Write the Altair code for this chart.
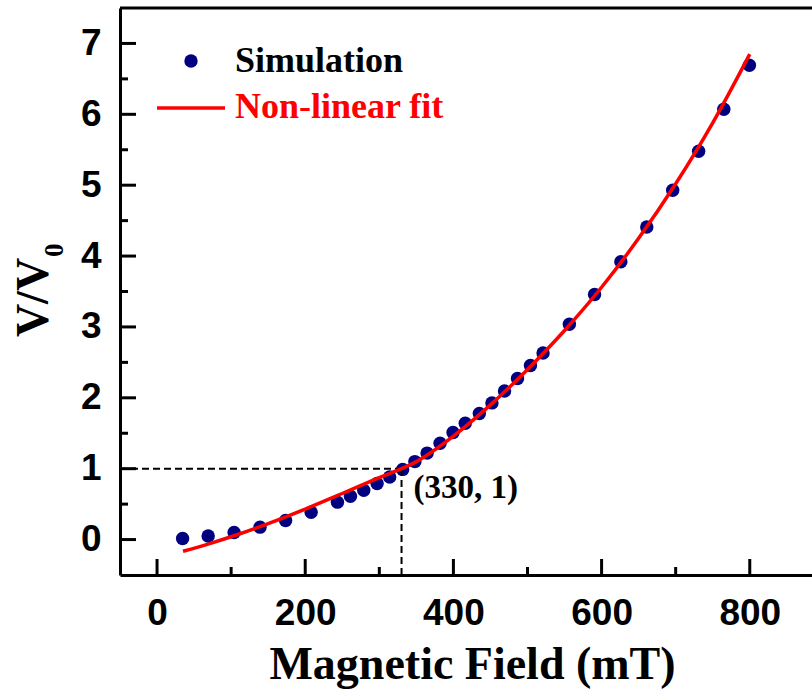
import altair as alt
import pandas as pd

# ---- data ----
sim_x = [34.5, 69, 104, 139, 173.5, 208, 243.5, 261, 279, 297, 314, 331.5, 348, 364.5,
         382, 399.5, 416, 435, 452, 469, 486.5, 504, 521, 556.5, 590.5, 626, 661, 696,
         731, 765, 799.5]
sim_y = [0.014, 0.05, 0.1, 0.175, 0.27, 0.385, 0.528, 0.61, 0.696, 0.79, 0.883, 0.99,
         1.1, 1.22, 1.36, 1.51, 1.64, 1.778, 1.928, 2.097, 2.272, 2.456, 2.633, 3.038,
         3.457, 3.92, 4.411, 4.929, 5.48, 6.072, 6.693]

fit_x = [35, 70, 110, 150, 200, 250, 300, 330, 350, 400, 450, 500, 550, 600, 650, 700, 750, 800]
fit_y = [-0.165, -0.06, 0.075, 0.225, 0.43, 0.65, 0.875, 1.0, 1.10, 1.46, 1.90, 2.40,
         2.95, 3.56, 4.25, 5.02, 5.88, 6.85]

x_major = [0, 200, 400, 600, 800]
x_minor = [100, 300, 500, 700]
y_major = [0, 1, 2, 3, 4, 5, 6, 7]
y_minor = [0.5, 1.5, 2.5, 3.5, 4.5, 5.5, 6.5]
x_domain = [-50, 884]
y_domain = [-0.5, 7.5]

mark_x = [330]
mark_y = [1]
note_x = [346]
note_y = [0.59]
note_text = ["(330, 1)"]

legend_labels = ["Simulation", "Non-linear fit"]
x_title = "Magnetic Field (mT)"
y_title_main = "V/V"
y_title_sub = "0"

W, H = 692, 567
SERIF = "Liberation Serif"
SANS = "Liberation Sans"

xs = alt.Scale(domain=x_domain, nice=False, zero=False)
ys = alt.Scale(domain=y_domain, nice=False, zero=False)

xaxis = alt.Axis(values=x_major, title=x_title, titleFont=SERIF, titleFontWeight="bold",
                 titleFontSize=46, titleColor="black", titleX=352, titleY=103,
                 titleAlign="center", titleBaseline="alphabetic",
                 labelFont=SANS, labelFontWeight="bold", labelFontSize=37, labelColor="black",
                 labelPadding=20, labelFlush=False, ticks=False, grid=False,
                 domainColor="black", domainWidth=3)
yaxis = alt.Axis(values=y_major, title=None, labelFont=SANS, labelFontWeight="bold",
                 labelFontSize=37, labelColor="black", labelPadding=19, labelFlush=False,
                 ticks=False, grid=False, domainColor="black", domainWidth=3)

sim_df = pd.DataFrame({"x": sim_x, "y": sim_y})
fit_df = pd.DataFrame({"x": fit_x, "y": fit_y})

# tick lengths (16 px major, 8 px minor) converted to data units of each scale
px_to_y = (y_domain[1] - y_domain[0]) / H
px_to_x = (x_domain[1] - x_domain[0]) / W


def xtick_layer(vals, length_px):
    df = pd.DataFrame({"x": vals,
                       "y": [y_domain[0]] * len(vals),
                       "y2": [y_domain[0] + length_px * px_to_y] * len(vals)})
    return alt.Chart(df).mark_rule(color="black", strokeWidth=3).encode(
        x=alt.X("x:Q", scale=xs, axis=xaxis), y=alt.Y("y:Q", scale=ys, axis=yaxis), y2="y2:Q")


def ytick_layer(vals, length_px):
    df = pd.DataFrame({"y": vals,
                       "x": [x_domain[0]] * len(vals),
                       "x2": [x_domain[0] + length_px * px_to_x] * len(vals)})
    return alt.Chart(df).mark_rule(color="black", strokeWidth=3).encode(
        x=alt.X("x:Q", scale=xs, axis=xaxis), x2="x2:Q", y=alt.Y("y:Q", scale=ys, axis=yaxis))


# dashed guide lines to (330, 1)
hguide = alt.Chart(pd.DataFrame({"x": [x_domain[0]], "x2": mark_x, "y": mark_y})).mark_rule(
    color="black", strokeWidth=2, strokeDash=[7, 4]).encode(
    x=alt.X("x:Q", scale=xs, axis=xaxis), x2="x2:Q", y=alt.Y("y:Q", scale=ys, axis=yaxis))
vguide = alt.Chart(pd.DataFrame({"x": mark_x, "y": [y_domain[0]], "y2": mark_y})).mark_rule(
    color="black", strokeWidth=2, strokeDash=[7, 4]).encode(
    x=alt.X("x:Q", scale=xs, axis=xaxis), y=alt.Y("y:Q", scale=ys, axis=yaxis), y2="y2:Q")

points = alt.Chart(sim_df).mark_circle(size=180, color="#000080", opacity=1).encode(
    x=alt.X("x:Q", scale=xs, axis=xaxis), y=alt.Y("y:Q", scale=ys, axis=yaxis))

line = alt.Chart(fit_df).mark_line(color="#ff0000", strokeWidth=3.5, interpolate="monotone").encode(
    x=alt.X("x:Q", scale=xs, axis=xaxis), y=alt.Y("y:Q", scale=ys, axis=yaxis))

note = alt.Chart(pd.DataFrame({"x": note_x, "y": note_y, "t": note_text})).mark_text(
    align="left", baseline="alphabetic", font=SERIF, fontWeight="bold", fontSize=33,
    color="black").encode(
    x=alt.X("x:Q", scale=xs, axis=xaxis), y=alt.Y("y:Q", scale=ys, axis=yaxis), text="t:N")

one = pd.DataFrame({"a": [0]})
top_spine = alt.Chart(one).mark_rule(color="black", strokeWidth=3).encode(
    x=alt.value(0), x2=alt.value(W), y=alt.value(0))

# legend
leg_pt = alt.Chart(one).mark_circle(size=180, color="#000080", opacity=1).encode(
    x=alt.value(71), y=alt.value(53))
leg_line = alt.Chart(one).mark_rule(color="#ff0000", strokeWidth=3.5).encode(
    x=alt.value(37), x2=alt.value(105), y=alt.value(100))
leg_t1 = alt.Chart(one).mark_text(align="left", baseline="alphabetic", font=SERIF,
                                  fontWeight="bold", fontSize=36, color="black").encode(
    x=alt.value(115), y=alt.value(64), text=alt.value(legend_labels[0]))
leg_t2 = alt.Chart(one).mark_text(align="left", baseline="alphabetic", font=SERIF,
                                  fontWeight="bold", fontSize=36, color="#ff0000").encode(
    x=alt.value(115), y=alt.value(110), text=alt.value(legend_labels[1]))

# y title V/V0
yt_main = alt.Chart(one).mark_text(angle=270, align="center", baseline="alphabetic", font=SERIF,
                                   fontWeight="bold", fontSize=46, color="black").encode(
    x=alt.value(-72), y=alt.value(289.5), text=alt.value(y_title_main))
yt_sub = alt.Chart(one).mark_text(angle=270, align="left", baseline="alphabetic", font=SERIF,
                                  fontWeight="bold", fontSize=27, color="black").encode(
    x=alt.value(-57), y=alt.value(249), text=alt.value(y_title_sub))

chart = alt.layer(
    points,
    xtick_layer(x_major, 16), xtick_layer(x_minor, 8),
    ytick_layer(y_major, 16), ytick_layer(y_minor, 8),
    hguide, vguide, line, note,
    top_spine, leg_pt, leg_line, leg_t1, leg_t2, yt_main, yt_sub
).properties(
    width=W, height=H,
    autosize=alt.AutoSizeParams(type="none"),
    padding={"left": 120, "top": 8, "right": 0, "bottom": 116},
    background="white",
).configure_view(stroke=None)

chart.save("out.html", embed_options={"renderer": "svg", "actions": False})
